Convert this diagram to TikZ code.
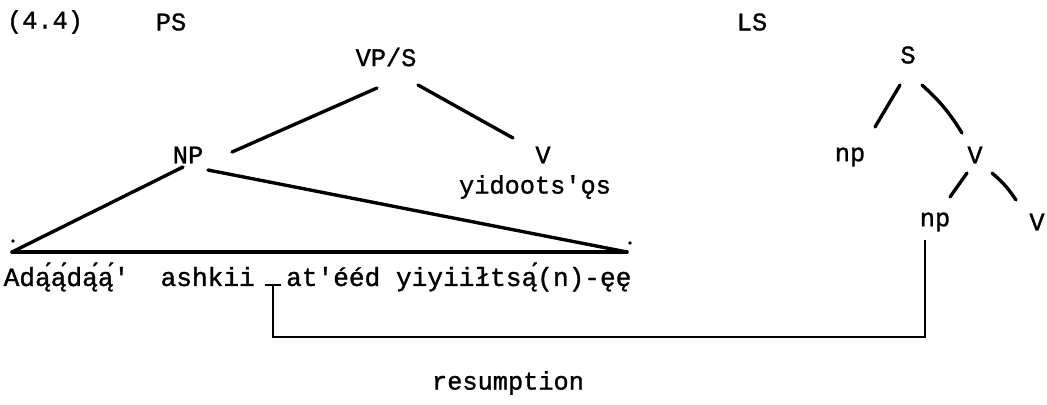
\documentclass[tikz,border=0pt]{standalone}
\usepackage{fontspec}
\setmainfont{Liberation Mono}[Ligatures=TeXOff, FakeBold=1.2]
\begin{document}
\begin{tikzpicture}[
    x=0.025cm, y=-0.025cm,
    lbl/.style={font=\fontsize{18}{21}\selectfont, inner sep=1pt},
    br/.style={line width=2.4pt, line cap=round},
    res/.style={line width=1.4pt}
  ]
  \useasboundingbox (0,0) rectangle (1047,404);
  \node[lbl] (num) at (45,22) {(4.4)};
  \node[lbl] (ps)  at (171,22) {PS};
  \node[lbl] (ls)  at (752,22) {LS};

  \node[lbl] (vps)  at (386,57)  {VP/S};
  \node[lbl] (np)   at (188,155) {NP};
  \node[lbl] (v)    at (543,155) {V};
  \node[lbl] (verb) at (535,187) {yidoots'ǫs};
  \coordinate (tl) at (12,252);
  \coordinate (tr) at (627,252);
  \node[lbl, anchor=west, font=\fontsize{18.6}{21}\selectfont] (sent) at (2,277)
    {Adą́ą́dą́ą́'~~ashkii~~at'ééd yiyiiłtsą́(n)-ęę};

  \node[lbl] (s)   at (908,55)   {S};
  \node[lbl] (np1) at (850,157)  {np};
  \node[lbl] (v1)  at (975,155)  {V};
  \node[lbl] (np2) at (935,222)  {np};
  \node[lbl] (v2)  at (1037,222) {V};
  \coordinate (gap) at (273,285);
  \node[lbl] (res) at (508,383) {resumption};

  \draw[br] ([shift={(-9,31)}]vps.center) -- ([shift={(44,-3)}]np.center);
  \draw[br] ([shift={(32,28)}]vps.center) -- ([shift={(-30,-17)}]v.center);
  \draw[br] ([shift={(-5,12)}]np.center) -- (tl);
  \draw[br] ([shift={(20,15)}]np.center) -- (tr);
  \draw[br] (tl) -- (tr);
  \fill ([shift={(1,-11)}]tl) circle (1.8);
  \fill ([shift={(3,-9)}]tr) circle (1.8);

  \draw[br] ([shift={(-8,30)}]s.center) -- ([shift={(25,-30)}]np1.center);
  \draw[br] ([shift={(14,30)}]s.center) to[bend left=8] ([shift={(-13,-22)}]v1.center);
  \draw[br] ([shift={(-8,18)}]v1.center) -- ([shift={(15,-25)}]np2.center);
  \draw[br] ([shift={(17,18)}]v1.center) to[bend left=8] ([shift={(-21,-22)}]v2.center);

  \draw[res] ([shift={(-10,18)}]np2.center) -- ++(0,97) -| (gap);
  \draw[res] ([xshift=-6]gap) -- ([xshift=6]gap);
\end{tikzpicture}
\end{document}
